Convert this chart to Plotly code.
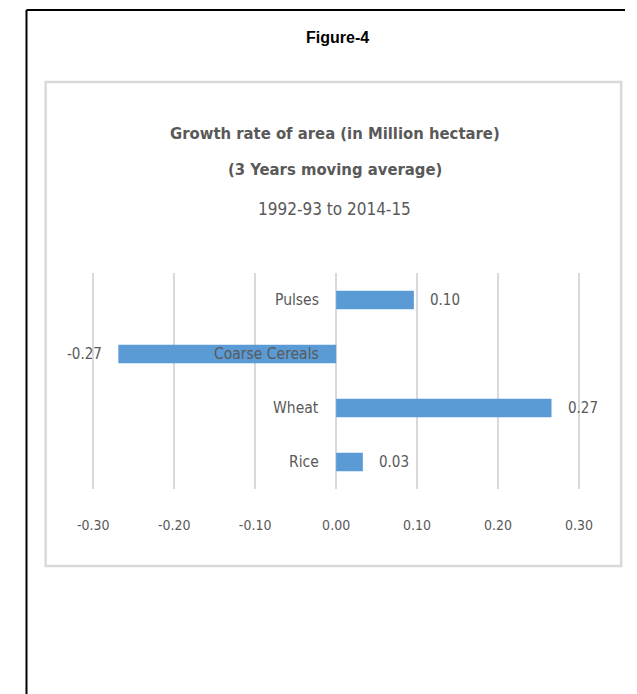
import plotly.graph_objects as go

# ---- data (Excel order: bottom to top) ----
categories = ["Rice", "Wheat", "Coarse Cereals", "Pulses"]
growth = [0.033, 0.266, -0.269, 0.096]
x_ticks = [-0.30, -0.20, -0.10, 0.00, 0.10, 0.20, 0.30]
x_tick_labels = ["-0.30", "-0.20", "-0.10", "0.00", "0.10", "0.20", "0.30"]

W, H = 637, 694
NARROW = "DejaVu Sans Condensed, DejaVu Sans, sans-serif"
GRAY = "#595959"
BLUE = "#5b9bd5"

fig = go.Figure()
fig.add_trace(go.Bar(
    y=categories, x=growth, orientation="h",
    marker=dict(color=BLUE, line=dict(width=0)),
    width=0.34, hoverinfo="x+y",
))

annotations = []
# category labels next to the zero axis
for c in categories:
    annotations.append(dict(x=0, y=c, xref="x", yref="y", text=c, showarrow=False,
                            xanchor="right", yanchor="middle", xshift=-15,
                            font=dict(family=NARROW, size=15.5, color=GRAY)))
# data labels outside end
for c, v in zip(categories, growth):
    annotations.append(dict(x=v, y=c, xref="x", yref="y", text=f"{v:.2f}", showarrow=False,
                            xanchor="left" if v >= 0 else "right", yanchor="middle",
                            xshift=14 if v >= 0 else -14,
                            font=dict(family=NARROW, size=15, color=GRAY)))
# headings
annotations.append(dict(x=337 / W, y=1 - 38 / H, xref="paper", yref="paper", text="<b>Figure-4</b>",
                        showarrow=False, xanchor="center", yanchor="middle",
                        font=dict(family="Liberation Sans, Arial, sans-serif", size=16, color="#000000")))
annotations.append(dict(x=334 / W, y=1 - 133 / H, xref="paper", yref="paper",
                        text="<b>Growth rate of area (in Million hectare)</b>",
                        showarrow=False, xanchor="center", yanchor="middle",
                        font=dict(family=NARROW, size=16.5, color=GRAY)))
annotations.append(dict(x=334 / W, y=1 - 170 / H, xref="paper", yref="paper",
                        text="<b>(3 Years moving average)</b>",
                        showarrow=False, xanchor="center", yanchor="middle",
                        font=dict(family=NARROW, size=16.5, color=GRAY)))
annotations.append(dict(x=334 / W, y=1 - 209 / H, xref="paper", yref="paper",
                        text="1992-93 to 2014-15",
                        showarrow=False, xanchor="center", yanchor="middle",
                        font=dict(family=NARROW, size=17, color=GRAY)))

shapes = [
    # outer black frame (left and top edges)
    dict(type="line", xref="paper", yref="paper", x0=12 / W, x1=12 / W, y0=0, y1=1 - 10 / H,
         line=dict(color="#000000", width=2)),
    dict(type="line", xref="paper", yref="paper", x0=12 / W, x1=1, y0=1 - 10 / H, y1=1 - 10 / H,
         line=dict(color="#000000", width=2)),
    # chart box
    dict(type="rect", xref="paper", yref="paper", x0=32 / W, x1=633 / W,
         y0=1 - 566 / H, y1=1 - 82 / H, line=dict(color="#d9d9d9", width=2.5)),
]

fig.update_layout(
    width=W, height=H,
    margin=dict(l=0, r=0, t=0, b=0),
    paper_bgcolor="white", plot_bgcolor="white",
    showlegend=False,
    annotations=annotations, shapes=shapes,
    xaxis=dict(domain=[80.0 / W, 590.7 / W], range=[-0.302, 0.302],
               tickvals=x_ticks, ticktext=x_tick_labels,
               showgrid=True, gridcolor="#d9d9d9", gridwidth=1.5,
               zeroline=True, zerolinecolor="#d9d9d9", zerolinewidth=1.5,
               showline=False, ticks="", ticklabelstandoff=26,
               tickfont=dict(family=NARROW, size=14, color=GRAY), fixedrange=True),
    yaxis=dict(domain=[1 - 489 / H, 1 - 273 / H], range=[-0.5, 3.5],
               categoryorder="array", categoryarray=categories,
               showticklabels=False, showgrid=False, zeroline=False, showline=False,
               ticks="", fixedrange=True),
)

fig.write_html("out.html")
